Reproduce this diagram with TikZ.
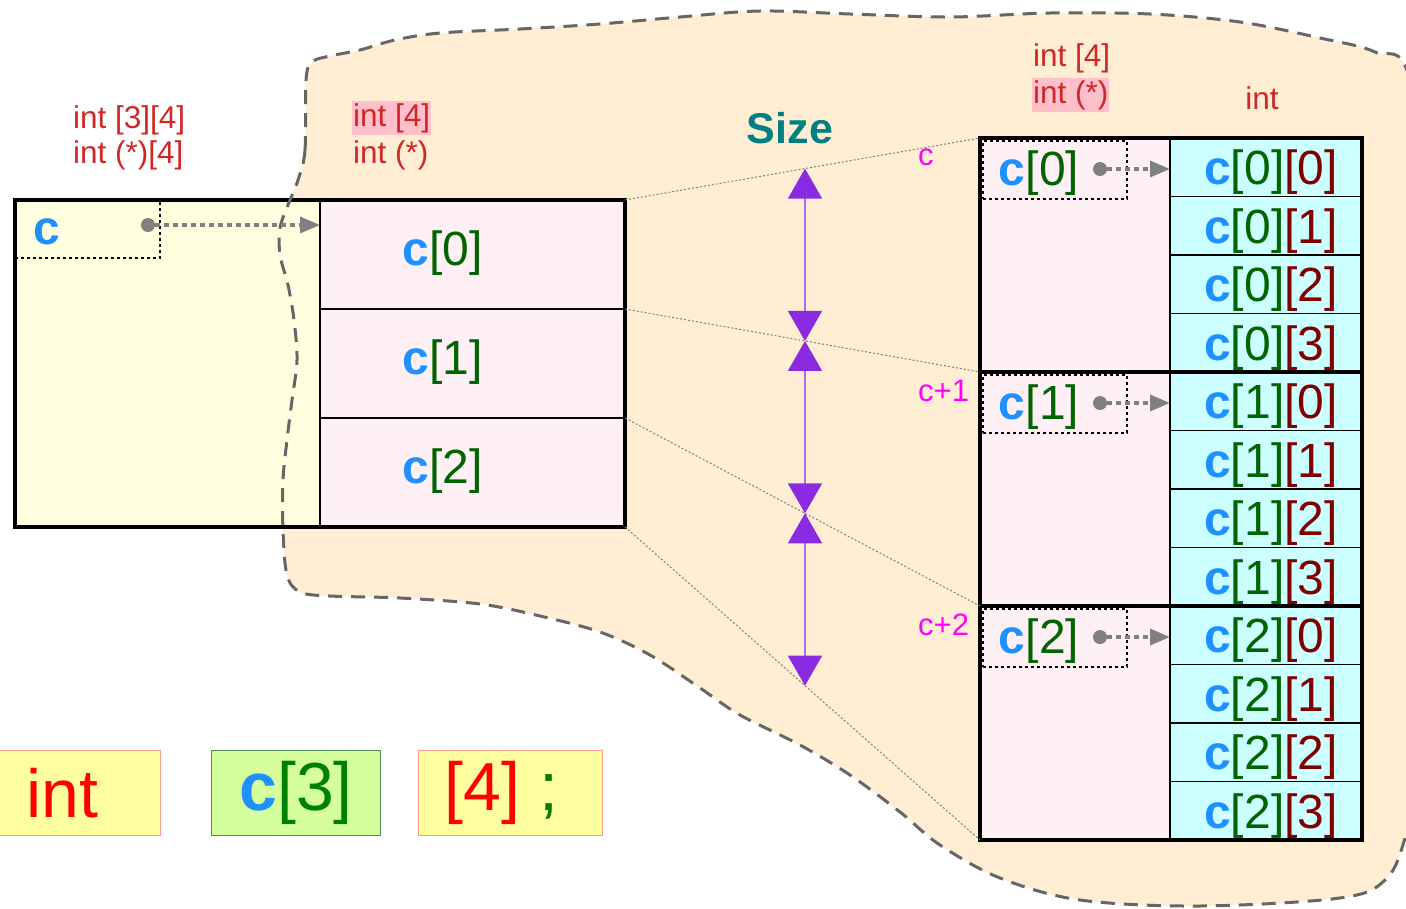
\documentclass[tikz,border=0pt]{standalone}
\usepackage{fontspec}
\setmainfont{Liberation Sans}
\usepackage{xcolor}
\usetikzlibrary{arrows.meta,positioning,calc}

\definecolor{blobfill}{HTML}{FFEED4}
\definecolor{blobline}{HTML}{666666}
\definecolor{cvarfill}{HTML}{FFFFE0}
\definecolor{rowfill}{HTML}{FFF0F5}
\definecolor{elemfill}{HTML}{CCFFFF}
\definecolor{typered}{HTML}{D02828}
\definecolor{typehl}{HTML}{FFC0CB}
\definecolor{cblue}{HTML}{1E90FF}
\definecolor{idxgreen}{HTML}{006400}
\definecolor{idxred}{HTML}{800000}
\definecolor{addrpink}{HTML}{FF00FF}
\definecolor{sizeteal}{HTML}{008080}
\definecolor{sizeviolet}{HTML}{8A2BE2}
\definecolor{declyellow}{HTML}{FFFFA0}
\definecolor{declborder}{HTML}{FF9C88}
\definecolor{declgreen}{HTML}{D5FF9C}
\definecolor{declgborder}{HTML}{4C8C4C}
\definecolor{declgtext}{HTML}{008000}

\newcommand{\cname}{\textcolor{cblue}{\textbf{c}}}
\newcommand{\idxg}[1]{\textcolor{idxgreen}{[#1]}}
\newcommand{\idxr}[1]{\textcolor{idxred}{[#1]}}

\begin{document}
\begin{tikzpicture}[x=1pt,y=-1pt,
    row/.style={draw, line width=1.5pt, fill=rowfill, minimum width=305pt, minimum height=109pt, inner sep=0pt, outer sep=0pt},
    grp/.style={draw, line width=1.5pt, fill=rowfill, minimum width=190pt, minimum height=234pt, inner sep=0pt, outer sep=0pt, anchor=north west},
    elem/.style={draw, line width=1.5pt, fill=elemfill, minimum width=192pt, minimum height=58.5pt, inner sep=0pt, outer sep=0pt, anchor=north west},
    ptrbox/.style={draw, dash pattern=on 3pt off 3pt, line width=1.5pt, minimum width=144pt, minimum height=58pt, inner sep=0pt, outer sep=0pt, anchor=north west},
    ptrdot/.style={circle, fill=gray, minimum size=14pt, inner sep=0pt},
    ptrarrow/.style={gray, dash pattern=on 5pt off 4pt, line width=3.5pt, -{Triangle[length=20pt,width=16pt]}},
    big/.style={font=\fontsize{48pt}{56pt}\selectfont, inner sep=0pt},
    typelbl/.style={text=typered, font=\fontsize{31.5pt}{38pt}\selectfont, inner xsep=1pt, inner ysep=2pt, anchor=west},
    addr/.style={text=addrpink, font=\fontsize{31pt}{36pt}\selectfont, anchor=west, inner sep=0pt},
    guide/.style={gray, dash pattern=on 2pt off 2pt, line width=1pt},
    sizearrow/.style={sizeviolet!70, line width=1.5pt, {Triangle[length=30pt,width=34pt,color=sizeviolet]}-{Triangle[length=30pt,width=34pt,color=sizeviolet]}},
    decl/.style={draw=declborder, fill=declyellow, line width=1.2pt, minimum height=85pt, font=\fontsize{68pt}{78pt}\selectfont, inner sep=0pt, anchor=north west}
]
    \useasboundingbox (0,0) rectangle (1406,908);

    % Blob (memory)
    \path[save path=\blobpath] plot[smooth cycle, tension=0.55] coordinates {
        (298,180) (305,150) (306,80) (312,62) (330,56) (360,50) (395,40) (440,33)
        (520,29) (600,24) (680,17) (760,11) (850,14) (950,17) (1050,13) (1150,14)
        (1240,22) (1320,38) (1375,52) (1410,80) (1440,300) (1440,700) (1406,835)
        (1385,880) (1340,898) (1200,906) (1080,900) (1000,878) (940,845) (900,812)
        (850,775) (800,745) (740,715) (700,688) (650,655) (600,632) (540,616)
        (480,604) (400,598) (330,596) (300,592) (287,575) (283,530) (283,480)
        (287,440) (292,400) (297,360) (294,320) (288,285) (280,255) (280,228) (288,205)};
    \fill[blobfill, use path=\blobpath];

    % Array c
    \node[draw, line width=1.5pt, fill=cvarfill, minimum width=305pt, minimum height=327pt, inner sep=0pt, outer sep=0pt, anchor=north west] (cvar) at (15,200) {};
    \node[row, anchor=north west] (c0) at (320,200) {};
    \node[row, below=0pt of c0] (c1) {};
    \node[row, below=0pt of c1] (c2) {};
    \draw[line width=3.5pt] (cvar.north west) rectangle (c2.south east);

    % Rows and elements
    \foreach \i in {0,1,2} {
        \node[grp] (g\i) at (980,{138+234*\i}) {};
        \foreach \j in {0,...,3} {
            \node[elem] (e\i\j) at (1170,{138+234*\i+58.5*\j}) {};
            \node[big] (el\i\j) at ([xshift=5pt,yshift=-5pt]e\i\j.center) {\cname\idxg{\i}\idxr{\j}};
        }
        \draw[line width=3.5pt] (g\i.north west) -- (e\i0.north east);
    }
    \draw[line width=4pt] (g0.north west) rectangle (e23.south east);

    % Blob outline
    \draw[blobline, line width=3pt, dash pattern=on 14pt off 9pt, use path=\blobpath];

    % Guides and sizes
    \draw[guide] (c0.north east) -- (g0.north west);
    \draw[guide] (c1.north east) -- (g1.north west);
    \draw[guide] (c2.north east) -- (g2.north west);
    \draw[guide] (c2.south east) -- (g2.south west);
    \coordinate (m0) at ($(c0.north east)!0.507!(g0.north west)$);
    \coordinate (m1) at ($(c1.north east)!0.507!(g1.north west)$);
    \coordinate (m2) at ($(c2.north east)!0.507!(g2.north west)$);
    \coordinate (m3) at ($(c2.south east)!0.507!(g2.south west)$);
    \draw[sizearrow] (m0) -- (m1);
    \draw[sizearrow] (m1) -- (m2);
    \draw[sizearrow] (m2) -- (m3);
    \node[text=sizeteal, font=\bfseries\fontsize{43pt}{50pt}\selectfont] (size) at (790,128) {Size};

    % Pointer c
    \node[ptrbox, minimum width=145pt] (pc) at (cvar.north west) {};
    \node[big] (cn) at (47,232) {\cname};
    \node[ptrdot] (dc) at (148,225) {};
    \draw[ptrarrow] (dc) -- (dc -| c0.west);
    \foreach \i in {0,1,2}
        \node[big] (cl\i) at ([xshift=-30pt,yshift=1pt]c\i.center) {\cname\idxg{\i}};

    % Pointers c[i]
    \foreach \i/\lbl in {0/c,1/c+1,2/c+2} {
        \node[ptrbox] (p\i) at ([shift={(3,3)}]g\i.north west) {};
        \node[big] (gl\i) at ([shift={(59,35)}]g\i.north west) {\cname\idxg{\i}};
        \node[ptrdot] (d\i) at ([shift={(120,31)}]g\i.north west) {};
        \draw[ptrarrow] (d\i) -- (d\i -| e\i0.west);
        \node[addr] (a\i) at ([shift={(-62,19)}]g\i.north west) {\lbl};
    }

    % Types
    \node[typelbl] (t2d) at (72,120) {int [3][4]};
    \node[typelbl] (t2dp) at (72,155) {int (*)[4]};
    \node[typelbl, fill=typehl] (t1d) at (352,118) {int [4]};
    \node[typelbl] (t1dp) at (352,155) {int (*)};
    \node[typelbl] (r1d) at (1032,58) {int [4]};
    \node[typelbl, fill=typehl] (r1dp) at (1032,95) {int (*)};
    \node[typelbl, anchor=center] (relem) at (1262,98) {int};

    % Declaration
    \node[decl, minimum width=196pt, text=red] (dint) at (-36,750) {int};
    \node[decl, draw=declgborder, fill=declgreen, minimum width=169pt] (dname) at (211,750) {\cname\textcolor{declgtext}{[3]}};
    \node[decl, minimum width=184pt] (ddim) at (418,750) {\hspace*{-18pt}\textcolor{red}{[4]} \textcolor{declgtext}{;}};
\end{tikzpicture}
\end{document}
